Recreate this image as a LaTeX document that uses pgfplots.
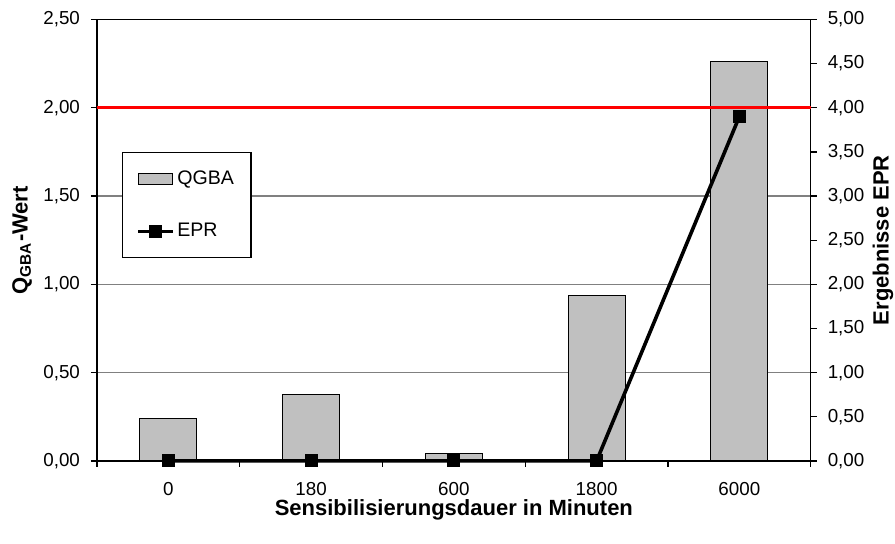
\documentclass[border=0pt]{standalone}
\usepackage{fontspec}
\setmainfont{Liberation Sans}
\usepackage{pgfplots}
\pgfplotsset{compat=1.18}

\definecolor{barfill}{RGB}{192,192,192}
\definecolor{gridc}{RGB}{128,128,128}

\begin{document}
\begin{tikzpicture}
\pgfplotsset{
    base/.style={
        width=356.9pt, height=220.75pt, scale only axis,
        xmin=-0.5, xmax=4.5, ymin=0,
        tick align=outside, major tick length=3pt,
        tick style={black, line width=0.6pt},
        axis line style={black, line width=0.6pt},
        tick label style={font=\fontsize{9.4}{11}\selectfont},
        yticklabel style={/pgf/number format/fixed,
            /pgf/number format/fixed zerofill,
            /pgf/number format/precision=2,
            /pgf/number format/use comma,
            /pgf/number format/assume math mode=true},
        label style={font=\fontsize{11}{13}\selectfont\bfseries},
    }
}
% left axis: QGBA bars
\begin{axis}[base, name=ax,
    ymax=2.5, ytick={0,0.5,...,2.5},
    ytick pos=left, xtick pos=bottom,
    ymajorgrids, grid style={gridc, line width=0.6pt},
    xtick={-0.5,0.5,...,4.5},
    xticklabels={0,180,600,1800,6000},
    x tick label as interval,
    xticklabel style={yshift=-4pt},
    yticklabel style={xshift=-2pt},
    ylabel={Q\textsubscript{GBA}-Wert},
    ylabel style={at={(axis description cs:-0.105,0.5)}, anchor=center},
    xlabel={Sensibilisierungsdauer in Minuten},
    xlabel style={at={(axis description cs:0.5,-0.111)}, anchor=center},
]
\addplot[ybar, bar width=28.5pt, fill=barfill, draw=black, line width=0.5pt]
    coordinates {(0,0.242) (1,0.378) (2,0.041) (3,0.938) (4,2.263)};
\end{axis}

% right axis: EPR line and limit
\begin{axis}[base,
    ymax=5, ytick={0,0.5,...,5},
    axis y line*=right, axis x line=none, clip=false,
    yticklabel style={xshift=2pt},
    ylabel={Ergebnisse EPR},
    ylabel style={at={(axis description cs:1.1013,0.5)}, anchor=center},
    legend cell align=left,
    legend style={at={(axis description cs:0.035,0.70)}, anchor=north west,
        draw=black, line width=0.6pt, fill=white,
        inner xsep=7pt, inner ysep=7.5pt, row sep=15pt,
        font=\fontsize{9.8}{11}\selectfont,
        nodes={inner sep=1.5pt}},
]
\addlegendimage{area legend, fill=barfill, draw=black, line width=0.5pt}
\addlegendentry{QGBA}
\addplot[red, line width=1.6pt, forget plot] coordinates {(-0.5,4) (4.5,4)};
\addplot[black, line width=1.8pt, mark=square*, mark size=3pt,
    mark options={line width=0.5pt}]
    coordinates {(0,0) (1,0) (2,0) (3,0) (4,3.9)};
\addlegendentry{EPR}
\end{axis}

\pgfresetboundingbox
\path ([xshift=-48.5pt,yshift=-41.5pt]ax.south west) rectangle ([xshift=42.15pt,yshift=9.75pt]ax.north east);
\end{tikzpicture}
\end{document}
